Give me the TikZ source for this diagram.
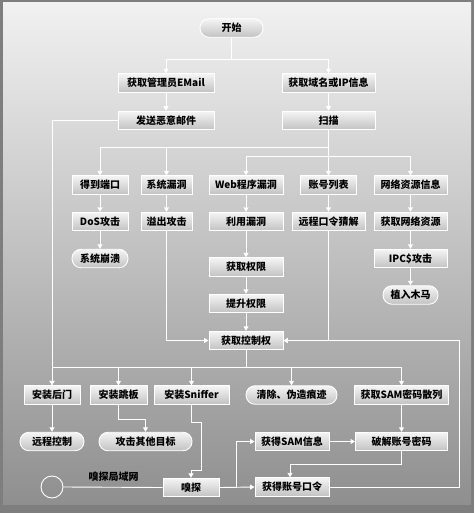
\documentclass[tikz,border=0pt]{standalone}
\usepackage{fontspec}
\setmainfont{Noto Sans CJK SC}
\usetikzlibrary{positioning,arrows.meta}

\definecolor{bgtop}{HTML}{F1F1F1}
\definecolor{bgbot}{HTML}{8F8F8F}
\definecolor{frame}{HTML}{7E7E7E}

\begin{document}
\begin{tikzpicture}[
  x=1pt, y=-1pt,
  box/.style={rectangle, draw=white, line width=0.9pt, top color=white!96!black,
              bottom color=black!24, minimum height=18.5pt, inner sep=1pt,
              font=\bfseries\fontsize{10}{10}\selectfont},
  endbox/.style={box, rounded corners=9pt},
  arrow/.style={-{Triangle[width=5pt,length=4.5pt]}, draw=white, line width=0.9pt},
  link/.style={draw=white, line width=0.9pt}
]
\useasboundingbox (0,0) rectangle (474,513);
% background
\fill[frame] (0,0) rectangle (474,513);
\shade[top color=bgtop, bottom color=bgbot] (3,3) rectangle (471,504);

\node[endbox, minimum width=63pt] (start) at (231.5,28) {开始};
\node[box, minimum width=96pt] (email) at (166,83) {获取管理员EMail};
\node[box, minimum width=93pt] (domain) at (328.5,83) {获取域名或IP信息};
\node[box, minimum width=96pt, below=18pt of email] (mail) {发送恶意邮件};
\node[box, minimum width=93pt, below=18pt of domain] (scan) {扫描};

\node[box, minimum width=56pt] (port) at (100,185) {得到端口};
\node[box, minimum width=51pt] (sysbug) at (166.5,185) {系统漏洞};
\node[box, minimum width=74pt] (webbug) at (246,185) {Web程序漏洞};
\node[box, minimum width=56pt] (acclist) at (328.5,185) {账号列表};
\node[box, minimum width=73pt] (netinfo) at (410.5,185) {网络资源信息};

\node[box, minimum width=56pt] (dos) at (100,221.5) {DoS攻击};
\node[box, minimum width=51pt] (overflow) at (166.5,221.5) {溢出攻击};
\node[box, minimum width=74pt] (exploit) at (246,221.5) {利用漏洞};
\node[box, minimum width=73pt] (guess) at (328.5,221.5) {远程口令猜解};
\node[box, minimum width=73pt] (getnet) at (410.5,221.5) {获取网络资源};

\node[endbox, minimum width=56pt] (crash) at (100,258.5) {系统崩溃};
\node[box, minimum width=74pt] (priv) at (246,267) {获取权限};
\node[box, minimum width=73pt] (ipc) at (410.5,258.5) {IPC\$攻击};
\node[box, minimum width=74pt] (raise) at (246,303.5) {提升权限};
\node[endbox, minimum width=55pt] (trojan) at (410.5,295) {植入木马};
\node[box, minimum width=74pt] (control) at (246,340.5) {获取控制权};

\node[box, minimum width=56pt] (backdoor) at (52,395) {安装后门};
\node[box, minimum width=57pt] (jump) at (118.5,395) {安装跳板};
\node[box, minimum width=75pt] (sniffer) at (191.5,395) {安装Sniffer};
\node[endbox, minimum width=91pt] (clean) at (291.5,395) {清除、伪造痕迹};
\node[box, minimum width=94pt] (samhash) at (401.5,395) {获取SAM密码散列};

\node[endbox, minimum width=64pt] (remote) at (52,441.5) {远程控制};
\node[endbox, minimum width=93pt] (other) at (145.5,441.5) {攻击其他目标};
\node[box, minimum width=74pt] (saminfo) at (292,441.5) {获得SAM信息};
\node[box, minimum width=92pt] (crack) at (401.5,441.5) {破解账号密码};

\node[circle, draw=white, line width=0.9pt, minimum size=22pt, inner sep=0pt] (lan) at (52,487) {};
\node[box, minimum width=56pt] (sniff) at (191,487.5) {嗅探};
\node[box, minimum width=74pt] (account) at (292,487) {获得账号口令};
\node[font=\bfseries\fontsize{10}{10}\selectfont] (lanlabel) at (113.5,477) {嗅探局域网};

\draw[arrow] (start.south) -- ++(0,22) -| (email.north);
\draw[arrow] (start.south) -- ++(0,22) -| (domain.north);
\draw[arrow] (email) -- (mail);
\draw[arrow] (domain) -- (scan);
\draw[arrow] (mail.west) -| (backdoor.north);

\draw[arrow] (scan.south) -- ++(0,17) -| (port.north);
\draw[arrow] (scan.south) -- ++(0,17) -| (sysbug.north);
\draw[arrow] (scan.south) -- ++(0,26) -| (webbug.north);
\draw[arrow] (scan.south) -- ++(0,26) -| (netinfo.north);
\draw[arrow] (scan) -- (acclist);

\draw[arrow] (port) -- (dos);
\draw[arrow] (dos) -- (crash);
\draw[arrow] (sysbug) -- (overflow);
\draw[arrow] (webbug) -- (exploit);
\draw[arrow] (exploit) -- (priv);
\draw[arrow] (priv) -- (raise);
\draw[arrow] (raise) -- (control);
\draw[arrow] (acclist) -- (guess);
\draw[arrow] (netinfo) -- (getnet);
\draw[arrow] (getnet) -- (ipc);
\draw[arrow] (ipc) -- (trojan);

\draw[arrow] (overflow.south) |- (control.west);
\draw[arrow] (guess.south) |- (control.east);
\draw[arrow] (account.east) -- ++(130,0) |- (control.east);

\draw[arrow] (control.south) -- ++(0,17) -| (backdoor.north);
\draw[arrow] (control.south) -- ++(0,17) -| (jump.north);
\draw[arrow] (control.south) -- ++(0,17) -| (sniffer.north);
\draw[arrow] (control.south) -- ++(0,17) -| (clean.north);
\draw[arrow] (control.south) -- ++(0,17) -| (samhash.north);

\draw[arrow] (backdoor) -- (remote);
\draw[arrow] (jump.south) -- ++(0,15) -| (other.north);
\draw[arrow] (sniffer.south) -- ++(0,18) -- ++(10,0) -- ++(0,48) -- ++(-10.5,0) -- (sniff.north);
\draw[link] (lan.east) -- (sniff.west);
\draw[arrow] (sniff.east) -- (account.west);
\draw[arrow] (sniff.east) -- ++(17,0) |- (saminfo.west);
\draw[arrow] (saminfo) -- (crack);
\draw[arrow] (samhash) -- (crack);
\draw[arrow] (crack.south) -- ++(0,13) -| ([xshift=-2pt]account.north);
\end{tikzpicture}
\end{document}
